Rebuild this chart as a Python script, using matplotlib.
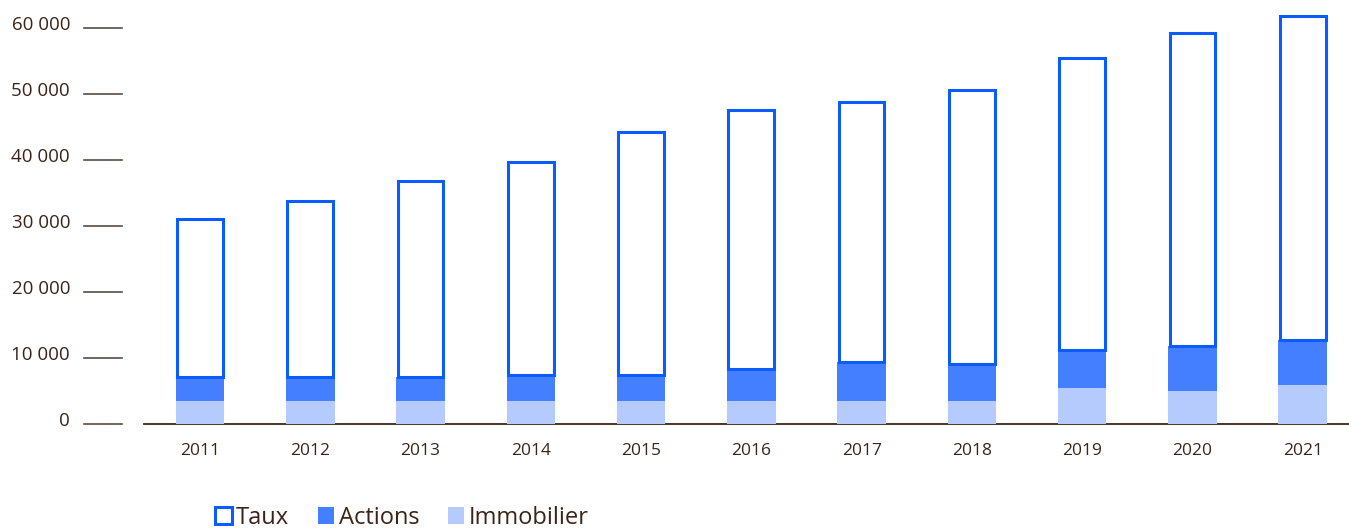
import matplotlib
matplotlib.use("Agg")
import matplotlib.pyplot as plt
import matplotlib.transforms as mtransforms
from matplotlib.patches import Patch
import numpy as np

years = ["2011", "2012", "2013", "2014", "2015", "2016", "2017", "2018", "2019", "2020", "2021"]
immobilier = [3500, 3500, 3500, 3500, 3500, 3500, 3500, 3500, 5500, 5000, 5900]
actions = [3600, 3600, 3600, 3900, 3900, 4800, 5900, 5600, 5700, 6800, 6800]
taux = [23900, 26700, 29700, 32300, 36800, 39300, 39400, 41500, 44300, 47400, 49100]
yticks = [0, 10000, 20000, 30000, 40000, 50000, 60000]
ytick_labels = ["0", "10 000", "20 000", "30 000", "40 000", "50 000", "60 000"]

text_color = "#3b2417"
tick_color = "#5b4b42"
c_taux = "#0a5cff"
c_actions = "#447fff"
c_immo = "#b5cbfd"

plt.rcParams["font.family"] = ["Open Sans", "DejaVu Sans"]

W, H = 1349, 531
fig = plt.figure(figsize=(W / 100, H / 100), dpi=100)
ax = fig.add_axes([144 / W, 107 / H, 1 - 144 / W, 422.4 / H])

x = np.arange(len(years))
imm = np.array(immobilier)
act = np.array(actions)
tx = np.array(taux)

ax.bar(x, imm, width=0.44, color=c_immo, linewidth=0)
ax.bar(x, act, width=0.44, bottom=imm, color=c_actions, linewidth=0)
ax.bar(x, tx, width=0.415, bottom=imm + act, facecolor="none",
       edgecolor=c_taux, linewidth=2.2)

ax.set_xlim(-0.508, 10.42)
ax.set_ylim(0, 64000)

for s in ["top", "right", "left"]:
    ax.spines[s].set_visible(False)
ax.spines["bottom"].set_color(text_color)
ax.spines["bottom"].set_linewidth(1.3)
ax.spines["bottom"].set_zorder(0.5)

ax.set_xticks(x)
ax.set_xticklabels(years, fontsize=12.5, color=text_color)
ax.tick_params(axis="x", length=0, pad=14)
ax.set_yticks([])

# y scale drawn as short lines to the left of the plot
trans = mtransforms.blended_transform_factory(ax.transAxes, ax.transData)
for v, lab in zip(yticks, ytick_labels):
    ax.plot([-0.0498, -0.0183], [v, v], transform=trans, color=tick_color,
            linewidth=1.2, clip_on=False)
    ax.text(-0.0614, v + 500, lab, transform=trans, ha="right", va="center",
            fontsize=13.5, color=text_color)

handles = [
    Patch(facecolor="white", edgecolor=c_taux, linewidth=2.2, label="Taux"),
    Patch(facecolor=c_actions, edgecolor="none", label="Actions"),
    Patch(facecolor=c_immo, edgecolor="none", label="Immobilier"),
]
fig.legend(handles=handles, loc="center left", bbox_to_anchor=(215 / W, 13 / H),
           ncol=3, frameon=False, fontsize=17, labelcolor=text_color,
           handlelength=0.7, handleheight=0.7, handletextpad=0.2,
           columnspacing=1.2, borderaxespad=0, borderpad=0)

fig.savefig("out.png", dpi=100)
